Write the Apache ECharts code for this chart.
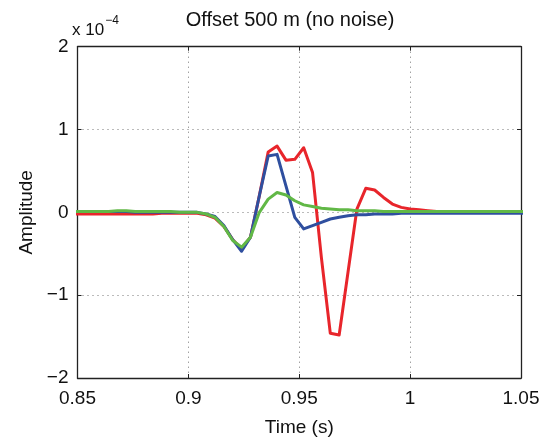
<!DOCTYPE html>
<html>
<head>
<meta charset="utf-8">
<script src="https://cdn.jsdelivr.net/npm/echarts@6/dist/echarts.min.js"></script>
<style>
html,body{margin:0;padding:0;background:#fff;}
#chart{width:546px;height:442px;}
</style>
</head>
<body>
<div id="chart"></div>
<script>
// Time samples (s), 4 ms spacing
var times = [0.848,0.852,0.856,0.860,0.864,0.868,0.872,0.876,0.880,0.884,0.888,0.892,0.896,0.900,
  0.904,0.908,0.912,0.916,0.920,0.924,0.928,0.932,0.936,0.940,0.944,0.948,0.952,0.956,0.960,0.964,
  0.968,0.972,0.976,0.980,0.984,0.988,0.992,0.996,1.000,1.004,1.008,1.012,1.016,1.020,1.024,1.028,
  1.032,1.036,1.040,1.044,1.048,1.052];
// Amplitudes in units of 1e-4
var redAmp = [-0.02,-0.02,-0.02,-0.02,-0.02,-0.02,-0.02,-0.02,-0.02,-0.02,-0.01,-0.01,-0.01,-0.01,
  -0.01,-0.03,-0.07,-0.17,-0.33,-0.44,-0.30,0.20,0.73,0.80,0.63,0.64,0.78,0.48,-0.55,-1.46,
  -1.48,-0.72,0.04,0.29,0.27,0.18,0.10,0.06,0.04,0.03,0.02,0.01,0.01,0.0,0.0,0.0,
  0.0,0.0,0.0,0.0,0.0,0.0];
var blueAmp = [0.01,0.01,0.01,0.01,0.01,0.01,0.01,0.0,0.0,0.0,0.0,0.0,0.0,0.0,
  0.0,-0.02,-0.05,-0.16,-0.33,-0.47,-0.30,0.20,0.68,0.70,0.32,-0.06,-0.20,-0.16,-0.12,-0.08,
  -0.06,-0.04,-0.03,-0.03,-0.02,-0.02,-0.02,-0.01,-0.01,-0.01,-0.01,-0.01,-0.01,-0.01,-0.01,-0.01,
  -0.01,-0.01,-0.01,-0.01,-0.01,-0.01];
var greenAmp = [0.01,0.01,0.01,0.01,0.01,0.02,0.02,0.01,0.01,0.01,0.01,0.01,0.0,0.0,
  0.0,-0.02,-0.06,-0.17,-0.34,-0.42,-0.30,0.00,0.16,0.24,0.21,0.14,0.09,0.07,0.05,0.04,
  0.03,0.03,0.02,0.02,0.02,0.01,0.01,0.01,0.01,0.01,0.01,0.01,0.01,0.01,0.01,0.01,
  0.01,0.01,0.01,0.01,0.01,0.01];
var xTicks = [0.85, 0.9, 0.95, 1, 1.05];
var yTicks = [-2, -1, 0, 1, 2];

function pairs(arr){ return times.map(function(t,i){ return [t, arr[i]]; }); }

var FONT = 'Liberation Sans, Arial, Helvetica, sans-serif';
var chart = echarts.init(document.getElementById('chart'), null, {renderer:'canvas'});
var gridL = 77.5, gridR = 25, gridT = 46.7, gridB = 62;

function lineSeries(name, data, color){
  return {name:name, type:'line', data:pairs(data), showSymbol:false, symbol:'none',
    clip:true, animation:false,
    lineStyle:{color:color, width:3, join:'round'}, z:2};
}

var option = {
  backgroundColor:'#fff',
  animation:false,
  graphic:[{
    type:'text', x:290, y:10,
    style:{text:'Offset 500 m (no noise)', fontFamily:FONT, fontSize:20, fill:'#111',
      align:'center', verticalAlign:'top'}
  },{
    type:'text', left:72, top:15,
    style:{
      text:'{a|x 10}{b|\u22124}',
      rich:{
        a:{fontFamily:FONT, fontSize:17, fill:'#111', padding:[9,0,0,0]},
        b:{fontFamily:FONT, fontSize:12, fill:'#111', padding:[0,0,9,1]}
      }
    }
  }],
  grid:{left:gridL, right:gridR, top:gridT, bottom:gridB, show:false},
  xAxis:[{
    type:'value', min:xTicks[0], max:xTicks[xTicks.length-1], interval:0.05,
    name:'Time (s)', nameLocation:'middle', nameGap:40,
    nameTextStyle:{fontFamily:FONT, fontSize:19, color:'#111'},
    axisLine:{show:true, onZero:false, lineStyle:{color:'#222', width:1.3}},
    axisTick:{show:true, inside:true, length:4, lineStyle:{color:'#222'}},
    axisLabel:{fontFamily:FONT, fontSize:19, color:'#111', margin:11,
      formatter:function(v){ return String(parseFloat(v.toFixed(2))); }},
    splitLine:{show:true, lineStyle:{color:'#777', type:[1,4], width:1}}
  },{
    type:'value', position:'top', min:xTicks[0], max:xTicks[xTicks.length-1], interval:0.05,
    axisLine:{show:true, onZero:false, lineStyle:{color:'#222', width:1.3}},
    axisTick:{show:true, inside:true, length:4, lineStyle:{color:'#222'}},
    axisLabel:{show:false}, splitLine:{show:false}
  }],
  yAxis:[{
    type:'value', min:yTicks[0], max:yTicks[yTicks.length-1], interval:1,
    name:'Amplitude', nameLocation:'middle', nameGap:40, nameRotate:90,
    nameTextStyle:{fontFamily:FONT, fontSize:19, color:'#111'},
    axisLine:{show:true, onZero:false, lineStyle:{color:'#222', width:1.3}},
    axisTick:{show:true, inside:true, length:4, lineStyle:{color:'#222'}},
    axisLabel:{fontFamily:FONT, fontSize:19, color:'#111', margin:9,
      formatter:function(v){ return String(v).replace('-', '\u2212'); }},
    splitLine:{show:true, lineStyle:{color:'#777', type:[1,4], width:1}}
  },{
    type:'value', position:'right', min:yTicks[0], max:yTicks[yTicks.length-1], interval:1,
    axisLine:{show:true, onZero:false, lineStyle:{color:'#222', width:1.3}},
    axisTick:{show:true, inside:true, length:4, lineStyle:{color:'#222'}},
    axisLabel:{show:false}, splitLine:{show:false}
  }],
  series:[
    lineSeries('red', redAmp, '#e8252b'),
    lineSeries('blue', blueAmp, '#2f4f9f'),
    lineSeries('green', greenAmp, '#61b846')
  ]
};
chart.setOption(option);
</script>
</body>
</html>
